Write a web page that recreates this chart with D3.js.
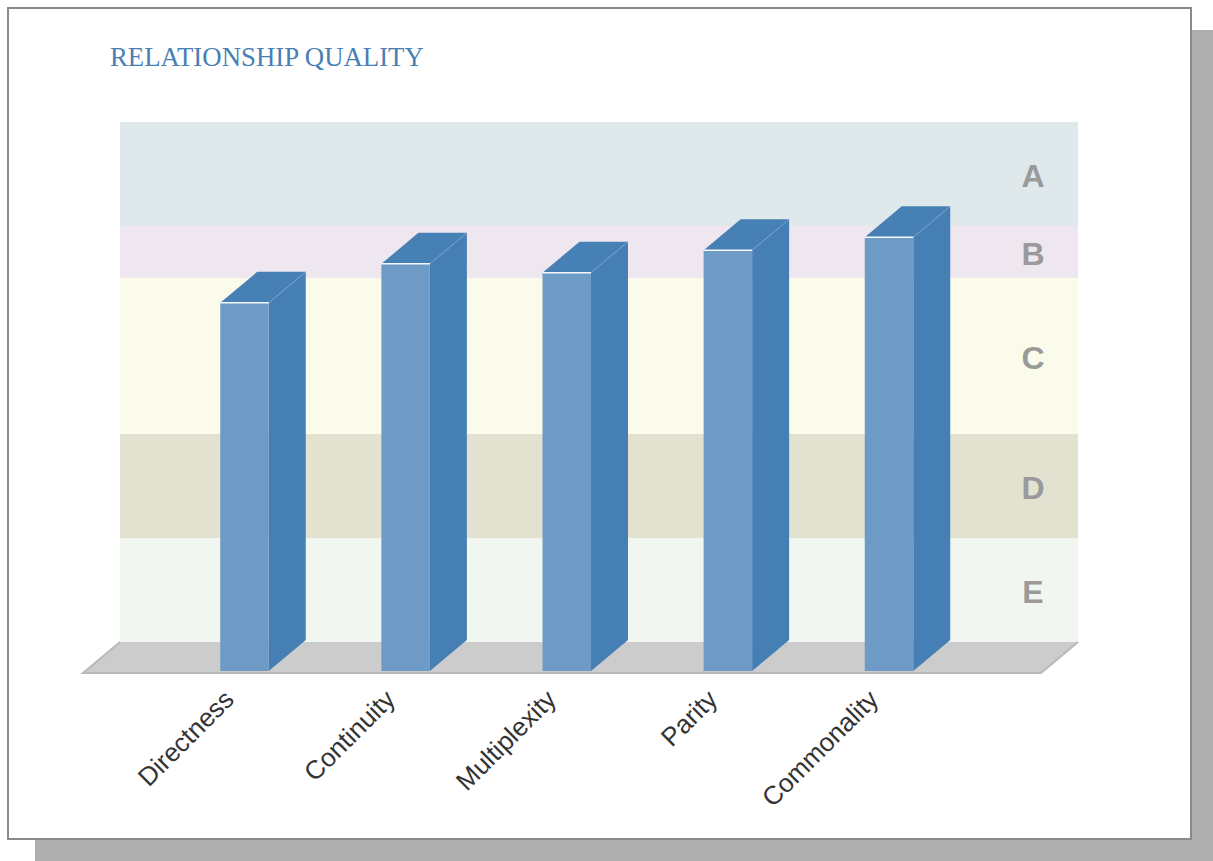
<!DOCTYPE html>
<html>
<head>
<meta charset="utf-8">
<script src="https://cdn.jsdelivr.net/npm/d3@7"></script>
<style>
  body { margin: 0; background: #fff; }
</style>
</head>
<body>
<script>
// data
var categories = ["Directness", "Continuity", "Multiplexity", "Parity", "Commonality"];
var values = [70.8, 78.3, 76.6, 80.9, 83.4];
var bandNames = ["E", "D", "C", "B", "A"];
var bandFrom = [0, 20, 40, 70, 80];
var bandTo = [20, 40, 70, 80, 100];
var bandColors = ["#f1f7f0", "#e3e2d0", "#fafbea", "#efe7f0", "#dfe8ea"];

var W = 1213, H = 861;
var depthX = 37, depthY = 31;

var svg = d3.select("body")
            .append("svg")
            .attr("width", W)
            .attr("height", H)

// shadow + card
svg.append("rect")
    .attr("x", 35).attr("y", 30)
    .attr("width", 1178).attr("height", 831)
    .attr("fill", "#aeaeae")
svg.append("rect")
    .attr("x", 8).attr("y", 8)
    .attr("width", 1183).attr("height", 831)
    .attr("fill", "#fff")
    .attr("stroke", "#8a8a8a")
    .attr("stroke-width", 2)

// title
svg.append("text")
    .attr("x", 110)
    .attr("y", 66)
    .attr("font-family", "'Liberation Serif', 'Times New Roman', serif")
    .attr("font-size", 26.8)
    .attr("fill", "#4a7fb5")
    .text("RELATIONSHIP QUALITY")

// scales
var x = d3.scalePoint()
    .domain(categories)
    .range([244.5, 889])

var yBack = d3.scaleLinear().domain([0, 100]).range([642, 122])
var yFront = d3.scaleLinear().domain([0, 100]).range([671, 151])

var wallLeft = 120, wallRight = 1078;

// bands on back wall
var bands = bandNames.map((n, i) => ({name: n, from: bandFrom[i], to: bandTo[i], color: bandColors[i]}))

svg.selectAll(".band")
    .data(bands)
    .enter()
    .append("rect")
    .attr("class", "band")
    .attr("x", wallLeft)
    .attr("y", d => yBack(d.to))
    .attr("width", wallRight - wallLeft)
    .attr("height", d => yBack(d.from) - yBack(d.to))
    .attr("fill", d => d.color)

// floor
var floorY = yBack(0);
var floorPts = [[wallLeft - depthX, floorY + depthY], [wallLeft, floorY], [wallRight, floorY], [wallRight - depthX, floorY + depthY]];
svg.append("polygon")
    .attr("points", floorPts.map(p => p.join(",")).join(" "))
    .attr("fill", "#cccccc")
svg.append("path")
    .attr("d", d3.line()([floorPts[1], floorPts[0], floorPts[3], floorPts[2]]))
    .attr("fill", "none")
    .attr("stroke", "#b9b9b9")
    .attr("stroke-width", 2)

// bars
var barW = 48.5;
var bars = svg.selectAll(".bar")
    .data(categories.map((c, i) => ({cat: c, v: values[i]})))
    .enter()
    .append("g")
    .attr("class", "bar")

// side
bars.append("polygon")
    .attr("points", d => {
        var x1 = x(d.cat) + barW / 2, yt = yFront(d.v), yb = yFront(0);
        return [[x1, yt], [x1 + depthX, yt - depthY], [x1 + depthX, yb - depthY], [x1, yb]].map(p => p.join(",")).join(" ")
    })
    .attr("fill", "#467fb4")

// top
bars.append("polygon")
    .attr("points", d => {
        var x0 = x(d.cat) - barW / 2, x1 = x(d.cat) + barW / 2, yt = yFront(d.v);
        return [[x0, yt], [x0 + depthX, yt - depthY], [x1 + depthX, yt - depthY], [x1, yt]].map(p => p.join(",")).join(" ")
    })
    .attr("fill", "#4680b5")

// edge highlight between top and side
bars.append("line")
    .attr("x1", d => x(d.cat) + barW / 2)
    .attr("y1", d => yFront(d.v))
    .attr("x2", d => x(d.cat) + barW / 2 + depthX)
    .attr("y2", d => yFront(d.v) - depthY)
    .attr("stroke", "#7ea6cd")
    .attr("stroke-width", 0.8)

// front
bars.append("rect")
    .attr("x", d => x(d.cat) - barW / 2)
    .attr("y", d => yFront(d.v))
    .attr("width", barW)
    .attr("height", d => yFront(0) - yFront(d.v))
    .attr("fill", "#6e9bc6")

bars.append("line")
    .attr("x1", d => x(d.cat) - barW / 2)
    .attr("x2", d => x(d.cat) + barW / 2)
    .attr("y1", d => yFront(d.v))
    .attr("y2", d => yFront(d.v))
    .attr("stroke", "#f4f7fb")
    .attr("stroke-width", 1.5)

// band letters
svg.selectAll(".bandLabel")
    .data(bands)
    .enter()
    .append("text")
    .attr("class", "bandLabel")
    .attr("x", 1033)
    .attr("y", d => (yBack(d.from) + yBack(d.to)) / 2)
    .attr("dy", "0.4em")
    .attr("text-anchor", "middle")
    .attr("font-family", "'Liberation Sans', Arial, sans-serif")
    .attr("font-weight", "bold")
    .attr("font-size", 32)
    .attr("fill", "#9a9a9a")
    .text(d => d.name)

// category labels
svg.selectAll(".catLabel")
    .data(categories)
    .enter()
    .append("text")
    .attr("class", "catLabel")
    .attr("text-anchor", "end")
    .attr("transform", d => "translate(" + (x(d) - 9) + "," + 701 + ") rotate(-45)")
    .attr("font-family", "'Liberation Sans', Arial, sans-serif")
    .attr("font-size", 26)
    .attr("fill", "#333")
    .text(d => d)
</script>
</body>
</html>
